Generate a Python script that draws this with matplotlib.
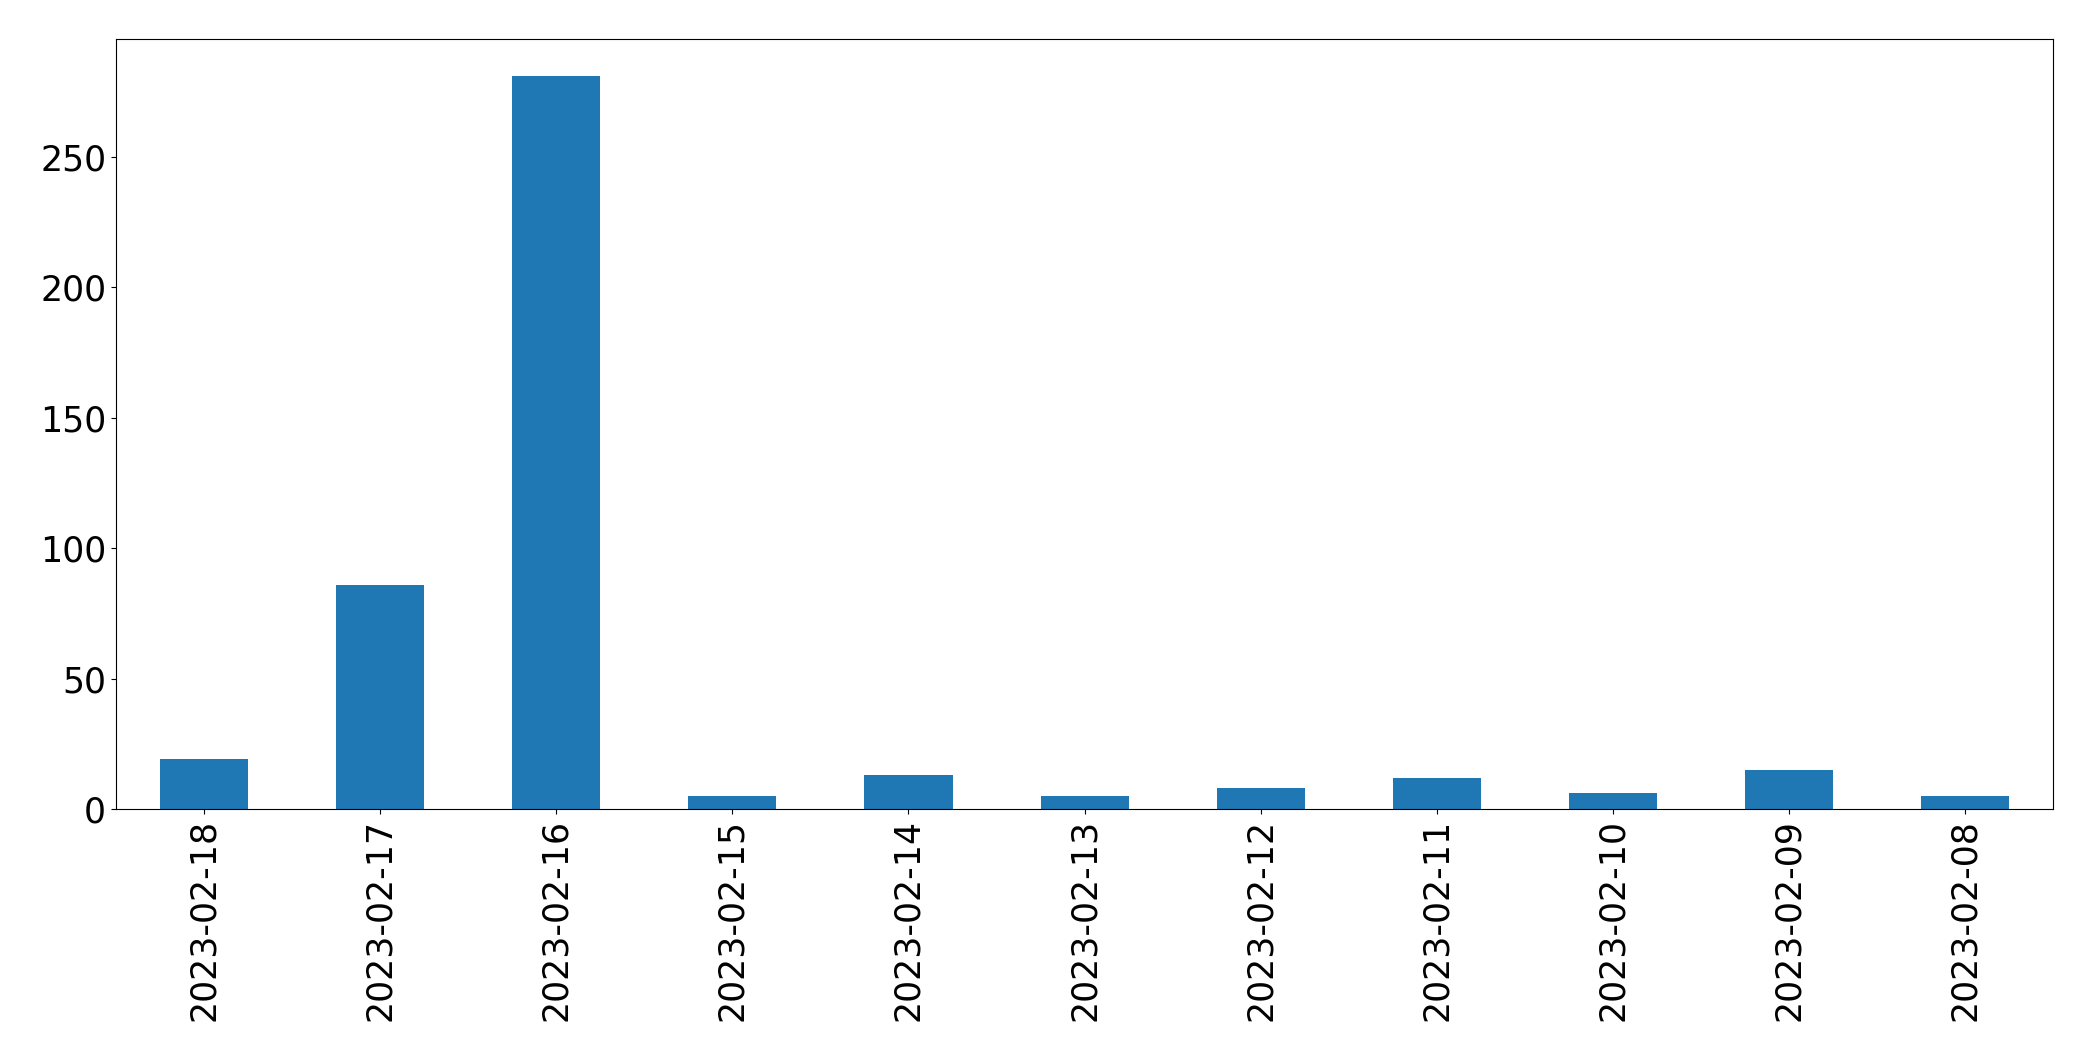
import pandas as pd
import matplotlib.pyplot as plt

# -------- DATA --------
dates = ['2023-02-18', '2023-02-17', '2023-02-16', '2023-02-15', '2023-02-14',
         '2023-02-13', '2023-02-12', '2023-02-11', '2023-02-10', '2023-02-09',
         '2023-02-08']
counts = [19, 86, 281, 5, 13, 5, 8, 12, 6, 15, 5]

s = pd.Series(counts, index=dates)

# -------- PLOT --------
fig = plt.figure(figsize=(20.93, 10.61), dpi=100)
ax = fig.add_axes([0.0554, 0.2375, 0.9256, 0.7255])
s.plot(kind='bar', ax=ax, color='#1f77b4')

ax.tick_params(axis='both', labelsize=25)
ax.set_xlabel('')

fig.savefig('out.png', dpi=100)
